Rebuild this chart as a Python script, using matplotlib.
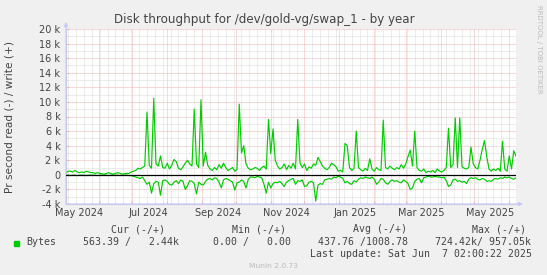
import matplotlib
matplotlib.use('Agg')
import matplotlib.pyplot as plt
import matplotlib.dates as mdates
import numpy as np
import pandas as pd

# ---------------- data ----------------
start_time = '2024-05-03 02:00'
end_time = '2025-06-07 02:00'
sample_step = '2D'

# write (+) in k bytes/s, one value per 2 days
write_k = [
    0.3, 0.5, 0.5, 0.4, 0.6, 0.4, 0.3, 0.4, 0.3, 0.5,
    0.4, 0.3, 0.3, 0.2, 0.3, 0.2, 0.15, 0.1, 0.2, 0.3,
    0.15, 0.1, 0.2, 0.3, 0.2, 0.1, 0.15, 0.2, 0.2, 0.4,
    0.5, 0.6, 0.9, 0.8, 1.0, 1.2, 8.6, 1.3, 0.9, 10.5,
    1.5, 1.2, 2.6, 1.0, 0.9, 1.6, 0.8, 1.3, 2.1, 1.8,
    0.9, 0.7, 1.1, 1.6, 2.0, 1.5, 1.2, 9.0, 1.5, 1.0,
    10.3, 1.2, 3.1, 1.3, 0.8, 0.6, 1.0, 0.7, 1.4, 0.9,
    1.6, 1.0, 0.6, 0.8, 1.0, 0.5, 0.7, 9.7, 3.0, 4.0,
    1.5, 0.9, 0.7, 0.8, 1.0, 0.9, 0.6, 1.0, 1.2, 0.8,
    7.6, 2.9, 6.3, 2.0, 1.2, 0.8, 1.0, 1.5, 0.7, 1.3,
    0.9, 1.6, 0.8, 7.6, 1.6, 1.0, 1.5, 0.6, 1.1, 0.9,
    1.5, 1.3, 2.4, 1.8, 1.2, 0.9, 0.7, 1.0, 1.6, 1.4,
    1.1, 0.5, 0.6, 0.4, 4.3, 4.0, 1.0, 0.6, 0.9, 6.0,
    1.0, 0.7, 0.5, 0.9, 0.6, 2.2, 0.8, 0.5, 1.0, 0.7,
    0.6, 7.5, 1.0, 0.8, 1.2, 0.9, 0.7, 1.0, 0.8, 1.4,
    0.9, 1.5, 2.5, 3.4, 1.2, 6.0, 1.0, 0.6, 0.5, 0.8,
    0.3, 0.5, 0.4, 0.6, 0.3, 0.8, 0.5, 0.4, 0.6, 1.0,
    6.4, 1.0, 1.4, 7.8, 1.0, 7.8, 1.1, 0.9, 0.8, 1.0,
    3.8, 1.5, 1.0, 0.8, 2.0, 3.5, 4.7, 2.5, 0.8, 0.5,
    0.8, 0.6, 0.9, 0.5, 4.6, 0.8, 0.5, 2.6, 0.8, 3.3,
    2.6,
]

# read (-) magnitude in k bytes/s, one value per 2 days
read_k = [
    0.05, 0.05, 0.1, 0.05, 0.05, 0.1, 0.05, 0.05, 0.05, 0.1,
    0.05, 0.05, 0.05, 0.05, 0.1, 0.05, 0.05, 0.05, 0.05, 0.1,
    0.05, 0.05, 0.05, 0.05, 0.1, 0.05, 0.05, 0.05, 0.1, 0.1,
    0.2, 0.3, 0.4, 0.5, 0.3, 0.8, 1.3, 1.0, 2.5, 1.2,
    0.9, 1.0, 2.8, 0.8, 0.7, 0.9, 1.3, 1.4, 1.0, 0.8,
    1.2, 0.7, 0.9, 2.0, 1.5, 0.8, 0.9, 1.2, 2.6, 1.0,
    1.3, 1.4, 0.9, 0.6, 0.5, 0.7, 0.4, 0.5, 1.0, 1.8,
    0.7, 0.5, 0.6, 0.8, 1.0, 2.1, 1.1, 1.0, 0.7, 0.9,
    1.8, 0.6, 0.3, 0.3, 0.4, 0.2, 0.3, 0.4, 1.3, 2.5,
    1.0, 1.8, 1.2, 1.0, 1.1, 0.9, 1.2, 1.6, 1.0, 0.8,
    0.6, 0.5, 1.3, 0.8, 0.9, 0.7, 1.6, 1.5, 1.0, 0.9,
    1.1, 3.6, 1.4, 1.2, 1.3, 0.7, 0.6, 0.5, 0.6, 0.3,
    0.4, 0.2, 0.3, 0.5, 1.1, 0.9, 1.2, 1.3, 0.8, 1.0,
    0.6, 0.4, 0.5, 0.3, 0.4, 0.5, 0.3, 0.6, 1.3, 1.0,
    0.5, 0.6, 1.1, 1.3, 0.9, 0.7, 0.9, 0.8, 1.0, 1.1,
    0.7, 0.9, 1.2, 2.0, 1.8, 0.9, 0.6, 0.5, 1.1, 0.4,
    0.3, 0.2, 0.3, 0.3, 0.2, 0.3, 0.3, 0.4, 0.3, 0.8,
    1.6, 1.4, 0.7, 0.6, 0.9, 0.8, 1.0, 0.9, 1.2, 0.6,
    0.4, 0.5, 0.4, 0.6, 0.7, 0.5, 0.6, 0.9, 0.8, 0.9,
    0.6, 0.5, 0.6, 0.4, 0.5, 0.3, 0.4, 0.3, 0.5, 0.6,
    0.4,
]

title = "Disk throughput for /dev/gold-vg/swap_1 - by year"
ylabel = "Pr second read (-) / write (+)"
ytick_vals_k = [-4, -2, 0, 2, 4, 6, 8, 10, 12, 14, 16, 18, 20]
ytick_labels = ["-4 k", "-2 k", "0", "2 k", "4 k", "6 k", "8 k", "10 k",
                "12 k", "14 k", "16 k", "18 k", "20 k"]
xlabel_dates = ['2024-05-15', '2024-07-15', '2024-09-15', '2024-11-15',
                '2025-01-15', '2025-03-15', '2025-05-15']
xlabel_texts = ['May 2024', 'Jul 2024', 'Sep 2024', 'Nov 2024',
                'Jan 2025', 'Mar 2025', 'May 2025']

legend_headers = ["Cur (-/+)", "Min (-/+)", "Avg (-/+)", "Max (-/+)"]
series_name = "Bytes"
legend_values = ["563.39 /   2.44k", "0.00 /   0.00", "437.76 /1008.78", "724.42k/ 957.05k"]
last_update = "Last update: Sat Jun  7 02:00:22 2025"
munin_version = "Munin 2.0.73"
side_text = "RRDTOOL / TOBI OETIKER"

# ---------------- drawing ----------------
W, H = 547, 275
BG = '#F0F0F0'
GREEN = '#00CC00'
MAJ = '#F0B4B4'
MIN = '#DCDCDC'
AXC = '#C8C8F0'
TXT = '#444444'

fig = plt.figure(figsize=(W / 100, H / 100), dpi=100, facecolor=BG)
L, R, T, B = 66, 516, 29, 204
ax = fig.add_axes([L / W, 1 - B / H, (R - L) / W, (B - T) / H])
ax.set_facecolor('white')

dates = pd.date_range(start_time, periods=len(write_k), freq=sample_step)
w = np.array(write_k) * 1000.0
r = -np.array(read_k) * 1000.0

ax.set_xlim(pd.Timestamp(start_time), pd.Timestamp(end_time))
ax.set_ylim(ytick_vals_k[0] * 1000, ytick_vals_k[-1] * 1000)

# grids
ax.xaxis.set_major_locator(mdates.MonthLocator())
ax.xaxis.set_minor_locator(mdates.WeekdayLocator(byweekday=mdates.SU))
ax.set_yticks([v * 1000 for v in ytick_vals_k])
ax.set_yticks(np.arange(-4000, 20001, 1000), minor=True)
ax.set_yticklabels(ytick_labels)
ax.set_xticklabels([])
dot = (0, (1, 1))
ax.grid(which='minor', color=MIN, linestyle=dot, linewidth=0.72, zorder=0)
ax.grid(which='major', color=MAJ, linestyle=dot, linewidth=0.72, zorder=0)
ax.set_axisbelow(True)

ax.tick_params(axis='both', which='both', length=2, direction='in', color=MAJ,
               labelsize=7, labelcolor=TXT, pad=4)
ax.tick_params(axis='both', which='minor', color=MIN, length=1.5)

# data lines
ax.plot(dates, w, color=GREEN, linewidth=0.85, zorder=3)
ax.plot(dates, r, color=GREEN, linewidth=0.85, zorder=3)
ax.axhline(0, color='black', linewidth=0.9, zorder=4)

# spines / axis arrows
for s in ['top', 'right']:
    ax.spines[s].set_visible(False)
for s in ['left', 'bottom']:
    ax.spines[s].set_color(AXC)
    ax.spines[s].set_linewidth(0.8)
ax.annotate('', xy=(L / W, 1 - 22 / H), xytext=(L / W, 1 - B / H),
            xycoords='figure fraction',
            arrowprops=dict(arrowstyle='-|>', color=AXC, lw=0.8,
                            mutation_scale=6, shrinkA=0, shrinkB=0))
ax.annotate('', xy=(523 / W, 1 - B / H), xytext=(L / W, 1 - B / H),
            xycoords='figure fraction',
            arrowprops=dict(arrowstyle='-|>', color=AXC, lw=0.8,
                            mutation_scale=6, shrinkA=0, shrinkB=0))

# x labels at mid-month
trans = ax.get_xaxis_transform()
for d, t in zip(xlabel_dates, xlabel_texts):
    ax.text(pd.Timestamp(d), -0.025, t, transform=trans, ha='center', va='top',
            fontsize=7, color=TXT)

def fx(px):
    return px / W

def fy(py):
    return 1 - py / H

fig.text(fx(264), fy(19), title, ha='center', va='center', fontsize=8.6, color='#444444')
fig.text(fx(10), fy(117), ylabel, ha='center', va='center', rotation=90,
         fontsize=7.6, color=TXT)
fig.text(fx(539), fy(5), side_text, ha='center', va='top', rotation=-90,
         fontsize=5, color='#BBBBBB')

mono = 'DejaVu Sans Mono'
hdr_x = [111, 232, 353, 472]
for x, t in zip(hdr_x, legend_headers):
    fig.text(fx(x), fy(229), t, ha='left', va='center', family=mono, fontsize=7.1, color=TXT)
fig.patches.append(plt.Rectangle((fx(14), fy(246)), 5 / W, 5 / H, transform=fig.transFigure,
                                 color=GREEN, figure=fig))
fig.text(fx(26), fy(242), series_name, ha='left', va='center', family=mono, fontsize=7.1, color=TXT)
val_x = [83, 213, 318, 435]
for x, t in zip(val_x, legend_values):
    fig.text(fx(x), fy(242), t, ha='left', va='center', family=mono, fontsize=7.1, color=TXT)
fig.text(fx(532), fy(254), last_update, ha='right', va='center', family=mono,
         fontsize=7.1, color=TXT)
fig.text(fx(273), fy(266), munin_version, ha='center', va='center', fontsize=5.4, color='#BBBBBB')

fig.savefig('out.png', dpi=100, facecolor=BG)
